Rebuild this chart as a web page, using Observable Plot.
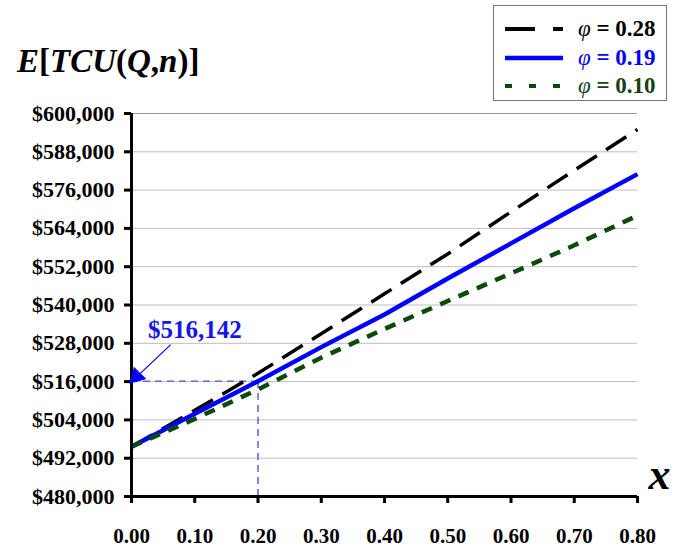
<!DOCTYPE html>
<html>
<head>
<meta charset="utf-8">
<script src="https://cdn.jsdelivr.net/npm/d3@7"></script>
<script src="https://cdn.jsdelivr.net/npm/@observablehq/plot@0.6"></script>
<style>
  html, body { margin: 0; padding: 0; background: #fff; }
  #wrap { position: relative; width: 688px; height: 548px; font-family: "Liberation Serif", "Times New Roman", serif; }
  #ytitle { position: absolute; left: 17px; top: 43px; font-size: 33px; font-weight: bold; white-space: nowrap; }
  #legend { position: absolute; left: 493px; top: 5px; width: 172px; height: 94px; border: 1px solid #777; background: #fff; }
  .row { position: absolute; left: 0; height: 28px; display: flex; align-items: center; font-size: 23px; font-weight: bold; white-space: nowrap; }
  .row svg { margin-left: 10px; margin-right: 14px; }
  .phi { font-style: italic; font-weight: normal; }
</style>
</head>
<body>
<div id="wrap">
  <div id="chart"></div>
  <div id="ytitle"><i>E</i>[<i>TCU</i>(<i>Q</i>,<i>n</i>)]</div>
  <div id="legend"></div>
</div>
<script>
// ---- data ----
const xValues = [0.0, 0.1, 0.2, 0.3, 0.4, 0.5, 0.6, 0.7, 0.8];
const phi028 = [495600, 507000, 518600, 531000, 543500, 556000, 569200, 582200, 595000];
const phi019 = [495600, 505900, 516142, 526800, 537000, 548300, 559300, 570300, 581000];
const phi010 = [495600, 504300, 513550, 523500, 532500, 541250, 549900, 558700, 568000];
const seriesNames = ["φ = 0.28", "φ = 0.19", "φ = 0.10"];
const yTicks = [480000, 492000, 504000, 516000, 528000, 540000, 552000, 564000, 576000, 588000, 600000];
const xTicks = [0.0, 0.1, 0.2, 0.3, 0.4, 0.5, 0.6, 0.7, 0.8];
const markX = 0.2;
const markY = 516142;
const markLabel = "$516,142";
const axisTitleX = "x";

// ---- styles ----
const seriesStyles = [
  {stroke: "#000000", strokeWidth: 3.5, dash: "24,11", text: "#000000"},
  {stroke: "#0000ff", strokeWidth: 4.5, dash: null, text: "#0000ff"},
  {stroke: "#0c4a0c", strokeWidth: 4.5, dash: "11,9", text: "#164216"}
];
const seriesValues = [phi028, phi019, phi010];
const rows = [];
seriesValues.forEach((vals, i) => vals.forEach((v, j) => rows.push({series: seriesNames[i], x: xValues[j], y: v})));

const annBlue = "#5555cc";

const plot = Plot.plot({
  width: 688,
  height: 548,
  marginLeft: 131,
  marginRight: 51,
  marginTop: 113,
  marginBottom: 52,
  style: {fontFamily: "Liberation Serif, Times New Roman, serif", fontWeight: "bold", color: "#000", background: "#fff"},
  x: {domain: [0, 0.8]},
  y: {domain: [480000, 600000]},
  marks: [
    Plot.gridY(yTicks.slice(0, -1), {stroke: "#bdbdbd", strokeOpacity: 1, strokeWidth: 1}),
    Plot.ruleY([yTicks[yTicks.length - 1]], {stroke: "#999", strokeWidth: 1.2}),
    Plot.ruleY([markY], {x1: 0, x2: markX, stroke: annBlue, strokeWidth: 1.4, strokeDasharray: "7,5"}),
    Plot.ruleX([markX], {y1: 480000, y2: markY, stroke: annBlue, strokeWidth: 1.4, strokeDasharray: "7,5"}),
    ...seriesNames.map((name, i) => Plot.line(rows.filter(r => r.series === name), {
      x: "x", y: "y",
      stroke: seriesStyles[i].stroke,
      strokeWidth: seriesStyles[i].strokeWidth,
      strokeDasharray: seriesStyles[i].dash,
      strokeLinecap: "butt"
    })),
    Plot.ruleX([0], {stroke: "#000", strokeWidth: 3}),
    Plot.ruleY([480000], {stroke: "#000", strokeWidth: 3}),
    Plot.axisY(yTicks, {tickFormat: d3.format("$,"), tickSize: 7, tickPadding: 10, fontSize: 22, strokeWidth: 3, label: null}),
    Plot.axisX(xTicks, {tickFormat: d3.format(".2f"), tickSize: 7, tickPadding: 25, fontSize: 21, strokeWidth: 3, label: null}),
    Plot.link([{x1: 0.062, y1: 527600, x2: 0.012, y2: 518200}], {x1: "x1", y1: "y1", x2: "x2", y2: "y2", stroke: "#0000ff", strokeWidth: 1.2}),
    Plot.dot([{x: 0.008, y: 517600}], {x: "x", y: "y", symbol: "triangle", r: 6.5, fill: "#0000ff", stroke: "none", rotate: 225}),
    Plot.text([markLabel], {x: 0.1, y: 532300, text: d => d, fill: "#1515ee", fontSize: 25, fontWeight: "bold"}),
    Plot.text([axisTitleX], {x: 0.8, y: 486800, dx: 22, text: d => d, fontSize: 44, fontStyle: "italic", fontWeight: "bold", fill: "#000"})
  ]
});
document.getElementById("chart").appendChild(plot);

// ---- legend ----
const legend = document.getElementById("legend");
const rowTops = [9, 38, 66];
seriesNames.forEach((name, i) => {
  const s = seriesStyles[i];
  const row = document.createElement("div");
  row.className = "row";
  row.style.top = rowTops[i] + "px";
  row.style.color = s.text;
  const dash = i === 0 ? "30,18" : (i === 2 ? "7,17" : null);
  row.innerHTML = `<svg width="60" height="10"><line x1="1" y1="5" x2="59" y2="5" stroke="${s.stroke}" stroke-width="${i === 1 ? 4.5 : 4}" ${dash ? `stroke-dasharray="${dash}"` : ""}/></svg>` +
    `<span><span class="phi">${name.slice(0, 1)}</span>${name.slice(1)}</span>`;
  legend.appendChild(row);
});
</script>
</body>
</html>
